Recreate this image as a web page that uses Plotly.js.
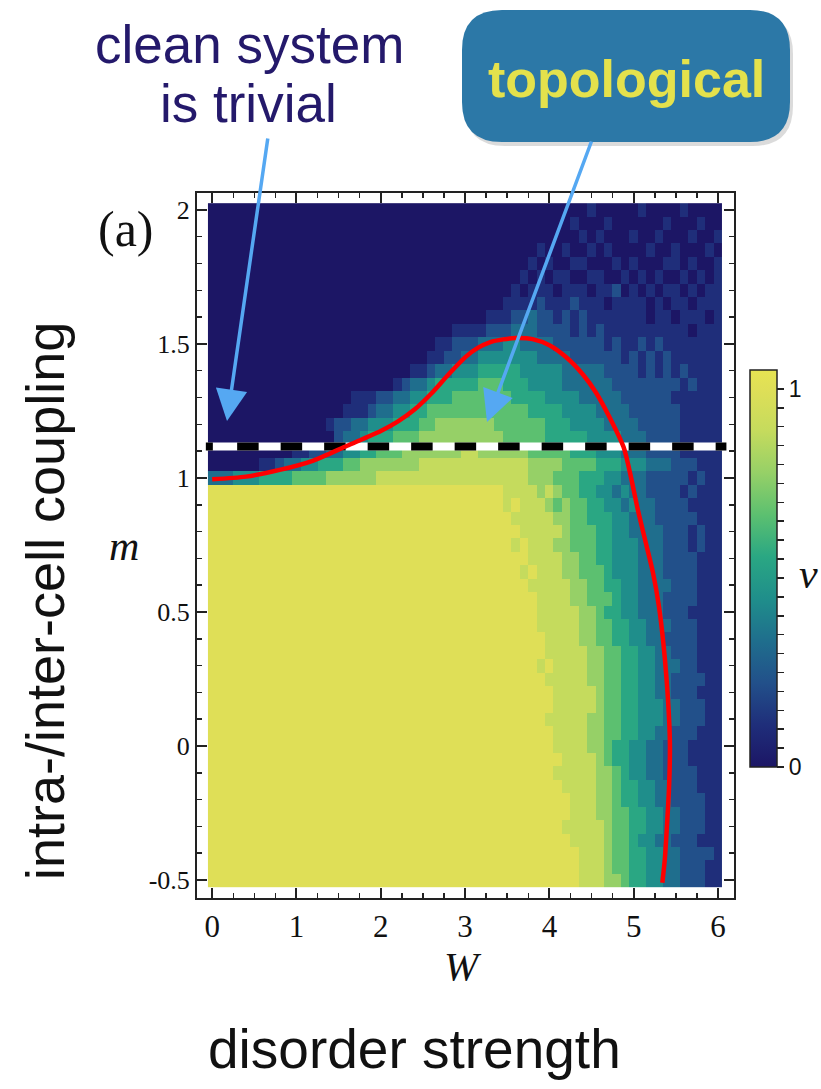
<!DOCTYPE html>
<html><head><meta charset="utf-8">
<script src="https://cdn.plot.ly/plotly-3.0.1.min.js"></script>
<style>html,body{margin:0;padding:0;background:#fff;}#chart{width:821px;height:1089px;}</style>
</head><body><div id="chart"></div>
<script>
// ---------------- data ----------------
const wVals = [0,0.1,0.2,0.3,0.4,0.5,0.6,0.7,0.8,0.9,1,1.1,1.2,1.3,1.4,1.5,1.6,1.7,1.8,1.9,2,2.1,2.2,2.3,2.4,2.5,2.6,2.7,2.8,2.9,3,3.1,3.2,3.3,3.4,3.5,3.6,3.7,3.8,3.9,4,4.1,4.2,4.3,4.4,4.5,4.6,4.7,4.8,4.9,5,5.1,5.2,5.3,5.4,5.5,5.6,5.7,5.8,5.9,6];
const mVals = [2,1.95,1.9,1.85,1.8,1.75,1.7,1.65,1.6,1.55,1.5,1.45,1.4,1.35,1.3,1.25,1.2,1.15,1.1,1.05,1,0.95,0.9,0.85,0.8,0.75,0.7,0.65,0.6,0.55,0.5,0.45,0.4,0.35,0.3,0.25,0.2,0.15,0.1,0.05,0,-0.05,-0.1,-0.15,-0.2,-0.25,-0.3,-0.35,-0.4,-0.45,-0.5];
// nu, one string per m row (top row first), digit d means nu = d/9
const nuRows = [
"0000000000 0000000000 0000000000 0000000000 0000010000 0100001000 0",
"0000000000 0000000000 0000000000 0000000000 0001000100 0000100010 0",
"0000000000 0000000000 0000000000 0000000000 0000101000 1001000100 1",
"0000000000 0000000000 0000000000 0000000001 0010010100 0010010001 0",
"0000000000 0000000000 0000000000 0000000010 1001100010 1000110100 1",
"0000000000 0000000000 0000000000 0000000101 0110011001 0101001010 1",
"0000000000 0000000000 0000000000 0000001011 1011101120 1010110101 1",
"0000000000 0000000000 0000000000 0000011112 1112111011 1101011011 1",
"0000000000 0000000000 0000000000 0001112232 2121211111 1101101110 1",
"0000000000 0000000000 0000000001 1112223332 2221212111 1111111011 1",
"0000000000 0000000000 0000000112 2233344333 3222222121 1212111111 1",
"0000000000 0000000000 0000001122 3344444443 3332222221 2121211111 1",
"0000000000 0000000000 0000112334 4455555444 4433333222 2121212111 1",
"0000000000 0000000000 0012334555 5566655544 4433333322 2222221211 1",
"0000000000 0000000111 2233445556 6666665555 4444333332 2222211111 1",
"0000000000 0000001112 3344556666 6666666655 5544443333 2222221111 1",
"0000000000 0000122334 4455566777 7777666666 5554444333 3222221111 1",
"0000000000 0000023345 5566677777 7777766666 5555544443 3322221111 1",
"0000000000 1122334455 6667777777 8877777766 6665554443 3322221111 1",
"0000001123 3445556677 7777788888 8888888877 7766665554 4433322211 1",
"3334445555 6666777777 8888888888 8888888877 7666555443 3322222121 1",
"999999999999999999999999999999 9999988887876655443433222212111",
"999999999999999999999999999999 9999989888767665544343322221111",
"999999999999999999999999999999 9999998888877665554433322222111",
"999999999999999999999999999999 9999999888887666554433332221211",
"999999999999999999999999999999 9999998988877666554443332221211",
"999999999999999999999999999999 9999999988887766554443332222111",
"999999999999999999999999999999 9999999898887766654443332222111",
"999999999999999999999999999999 9999999988888776655443333222111",
"999999999999999999999999999999 9999999998888776665443332222111",
"999999999999999999999999999999 9999999998888877655443332221111",
"999999999999999999999999999999 9999999998888877665544333222111",
"999999999999999999999999999999 9999999999888877665544332222111",
"999999999999999999999999999999 9999999999888887766554433222111",
"999999999999999999999999999999 9999999998988887766554433322111",
"999999999999999999999999999999 9999999999888887766554433222211",
"999999999999999999999999999999 9999999999988888766554433222111",
"999999999999999999999999999999 9999999999988888766554443322211",
"999999999999999999999999999999 9999999999888887766554443322211",
"999999999999999999999999999999 9999999999988887766554433222111",
"999999999999999999999999999999 9999999999988887765544332221111",
"999999999999999999999999999999 9999999999998888765544332221111",
"999999999999999999999999999999 9999999999988888776544332222111",
"999999999999999999999999999999 9999999999998888776554433222111",
"999999999999999999999999999999 9999999999999888776554433222211",
"999999999999999999999999999999 9999999999999888776655443322211",
"999999999999999999999999999999 9999999999998888876655443322211",
"999999999999999999999999999999 9999999999999888876654433222111",
"999999999999999999999999999999 9999999999999988876655443322221",
"999999999999999999999999999999 9999999999999988876655443322211",
"999999999999999999999999999999 9999999999999988877655443322211"
];
// red phase boundary (W, m)
const boundaryW = [0,0.4,0.8,1.2,1.6,2.0,2.2,2.4,2.6,2.8,3.0,3.15,3.3,3.45,3.6,3.8,4.0,4.2,4.4,4.55,4.7,4.88,4.97,5.05,5.15,5.23,5.3,5.35,5.39,5.42,5.43,5.42,5.40,5.37,5.34];
const boundaryM = [0.995,1.005,1.03,1.065,1.12,1.175,1.21,1.255,1.315,1.385,1.45,1.485,1.507,1.517,1.522,1.518,1.495,1.45,1.385,1.32,1.235,1.115,1.0,0.88,0.75,0.645,0.52,0.39,0.25,0.1,0.0,-0.15,-0.27,-0.42,-0.51];
// dashed "clean system" line
const cleanW = [-0.075, 6.1];
const cleanM = [1.117, 1.117];
const xTickVals = [0,1,2,3,4,5,6];
const xTickText = ['0','1','2','3','4','5','6'];
const yTickVals = [-0.5,0,0.5,1,1.5,2];
const yTickText = ['-0.5','0','0.5','1','1.5','2'];
const cbTickVals = [0,0.05,0.1,0.15,0.2,0.25,0.3,0.35,0.4,0.45,0.5,0.55,0.6,0.65,0.7,0.75,0.8,0.85,0.9,0.95,1];
const cbTickText = ['0','','','','','','','','','','','','','','','','','','','','1'];
const nuStops  = [0,0.111,0.222,0.333,0.444,0.556,0.667,0.778,0.889,1.0,1.05];
const nuColors = ['#1c1665','#1f2e7a','#22508a','#1f6e8d','#1f8e8b','#2aa783','#5cc070','#96d067','#c5db5d','#dfdf57','#e6e452'];
const NU_MAX = 1.05;

// ---------------- build ----------------
const z = nuRows.map((r,i) => {
  const s = r.replace(/ /g,'');
  if (s.length !== wVals.length) console.error('row', i, 'length', s.length);
  return s.split('').map(c => Number(c)/9);
});
const colorscale = nuStops.map((s,i) => [s/NU_MAX, nuColors[i]]);

const L=197, R=734, T=193, B=898;
const PX = x => (x-L)/(R-L);
const PY = y => (B-y)/(B-T);
function roundRect(x0,y0,x1,y1,r){
  const p=(x,y)=>PX(x)+','+PY(y);
  return 'M'+p(x0+r,y0)+' L'+p(x1-r,y0)+' Q'+p(x1,y0)+' '+p(x1,y0+r)+
    ' L'+p(x1,y1-r)+' Q'+p(x1,y1)+' '+p(x1-r,y1)+' L'+p(x0+r,y1)+
    ' Q'+p(x0,y1)+' '+p(x0,y1-r)+' L'+p(x0,y0+r)+' Q'+p(x0,y0)+' '+p(x0+r,y0)+' Z';
}
let dash = '7px,24.3px';
for (let i=0;i<14;i++) dash += ',21.5px,22px';

const serif = 'Liberation Serif, DejaVu Serif, serif';
const sans = 'Liberation Sans, Arial, sans-serif';

const traces = [
  {type:'heatmap', x:wVals, y:mVals, z:z, zmin:0, zmax:NU_MAX, colorscale:colorscale,
   hoverinfo:'skip',
   colorbar:{thickness:27, thicknessmode:'pixels', len:397, lenmode:'pixels',
     x:PX(750), xanchor:'left', xpad:0, y:PY(568.5), yanchor:'middle', ypad:0,
     outlinewidth:1.5, outlinecolor:'#222', ticks:'outside', ticklen:7, tickwidth:1.5, tickcolor:'#222',
     tickmode:'array', tickvals:cbTickVals, ticktext:cbTickText,
     tickfont:{family:sans, size:23, color:'#111'}}},
  {type:'scatter', mode:'lines', x:cleanW, y:cleanM, line:{color:'#ffffff', width:8}, hoverinfo:'skip', showlegend:false},
  {type:'scatter', mode:'lines', x:cleanW, y:cleanM, line:{color:'#000000', width:8, dash:dash}, hoverinfo:'skip', showlegend:false},
  {type:'scatter', mode:'lines', x:boundaryW, y:boundaryM, line:{color:'#ff0000', width:4.5, shape:'spline', smoothing:0.7}, hoverinfo:'skip', showlegend:false}
];

const arrowColor = '#55a8f2';
const layout = {
  width:821, height:1089, margin:{l:L, r:821-R, t:T, b:1089-B, pad:0},
  paper_bgcolor:'#fff', plot_bgcolor:'#fff', showlegend:false,
  xaxis:{range:[-0.18,6.19], tickmode:'array', tickvals:xTickVals, ticktext:xTickText,
    ticks:'inside', ticklen:10, tickwidth:2, tickcolor:'#222', showline:true, linewidth:2, linecolor:'#222',
    mirror:'allticks', showgrid:false, zeroline:false, tickfont:{family:serif, size:31, color:'#111'},
    minor:{tickmode:'linear', tick0:0, dtick:0.25, ticks:'inside', ticklen:5, tickwidth:1.5, tickcolor:'#222', showgrid:false}},
  yaxis:{range:[-0.567,2.063], tickmode:'array', tickvals:yTickVals, ticktext:yTickText,
    ticks:'inside', ticklen:10, tickwidth:2, tickcolor:'#222', showline:true, linewidth:2, linecolor:'#222',
    mirror:'allticks', showgrid:false, zeroline:false, tickfont:{family:serif, size:26, color:'#111'},
    minor:{tickmode:'linear', tick0:0, dtick:0.1, ticks:'inside', ticklen:5, tickwidth:1.5, tickcolor:'#222', showgrid:false}},
  shapes:[
    {type:'path', xref:'paper', yref:'paper', path:roundRect(465,14,793,146,40), fillcolor:'rgba(0,0,0,0.14)', line:{width:0}, layer:'above'},
    {type:'path', xref:'paper', yref:'paper', path:roundRect(462,10,790,142,40), fillcolor:'#2c78a7', line:{width:0}, layer:'above'}
  ],
  annotations:[
    {xref:'paper', yref:'paper', x:PX(249), y:PY(44), text:'clean system', showarrow:false, xanchor:'center', yanchor:'middle', font:{family:sans, size:53, color:'#24196b'}},
    {xref:'paper', yref:'paper', x:PX(248), y:PY(104), text:'is trivial', showarrow:false, xanchor:'center', yanchor:'middle', font:{family:sans, size:53, color:'#24196b'}},
    {xref:'paper', yref:'paper', x:PX(626), y:PY(79), text:'<b>topological</b>', showarrow:false, xanchor:'center', yanchor:'middle', font:{family:sans, size:52, color:'#e4e14c'}},
    {xref:'paper', yref:'paper', x:PX(126), y:PY(229), text:'(a)', showarrow:false, xanchor:'center', yanchor:'middle', font:{family:serif, size:50, color:'#111'}},
    {xref:'paper', yref:'paper', x:PX(124), y:PY(546), text:'<i>m</i>', showarrow:false, xanchor:'center', yanchor:'middle', font:{family:serif, size:42, color:'#111'}},
    {xref:'paper', yref:'paper', x:PX(463), y:PY(966), text:'<i>W</i>', showarrow:false, xanchor:'center', yanchor:'middle', font:{family:serif, size:41, color:'#111'}},
    {xref:'paper', yref:'paper', x:PX(808), y:PY(574), text:'<i>ν</i>', showarrow:false, xanchor:'center', yanchor:'middle', font:{family:serif, size:42, color:'#111'}},
    {xref:'paper', yref:'paper', x:PX(45), y:PY(601), text:'intra-/inter-cell coupling', textangle:-90, showarrow:false, xanchor:'center', yanchor:'middle', font:{family:sans, size:54, color:'#111'}},
    {xref:'paper', yref:'paper', x:PX(414), y:PY(1049), text:'disorder strength', showarrow:false, xanchor:'center', yanchor:'middle', font:{family:sans, size:55, color:'#111'}},
    {xref:'paper', yref:'paper', x:PX(227), y:PY(421), ax:268-227, ay:137-421, axref:'pixel', ayref:'pixel', text:'', showarrow:true, arrowhead:2, arrowsize:1.8, arrowwidth:3.5, arrowcolor:arrowColor, standoff:0},
    {xref:'paper', yref:'paper', x:PX(487), y:PY(422), ax:592-487, ay:140-422, axref:'pixel', ayref:'pixel', text:'', showarrow:true, arrowhead:2, arrowsize:1.8, arrowwidth:3.5, arrowcolor:arrowColor, standoff:0}
  ]
};
Plotly.newPlot('chart', traces, layout, {staticPlot:true, displayModeBar:false});
</script>
</body></html>
